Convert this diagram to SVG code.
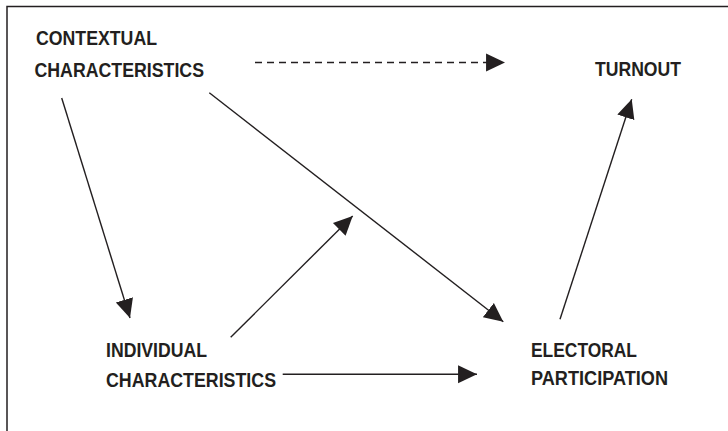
<svg xmlns="http://www.w3.org/2000/svg" width="728" height="431" viewBox="0 0 728 431">
<style>
.lbl{font-family:"Liberation Sans",Arial,sans-serif;font-weight:bold;font-size:21px;fill:#231f20}
.ln{stroke:#231f20;stroke-width:1.4;fill:none;marker-end:url(#ah)}
.dash{stroke-dasharray:7,5}
</style>
<defs>
<marker id="ah" markerUnits="userSpaceOnUse" markerWidth="20" markerHeight="20" viewBox="0 -9 19 18" refX="18" refY="0" orient="auto">
<path d="M0,-8.5 L18,0 L0,8.5 Z" fill="#231f20"/>
</marker>
</defs>
<rect x="7" y="6.5" width="730" height="440" fill="#fff" stroke="#231f20" stroke-width="1.5"/>
<g id="connectors">
<line class="ln dash" x1="255" y1="62.5" x2="505" y2="62.5"/>
<line class="ln" x1="61.7" y1="98" x2="130" y2="318"/>
<line class="ln" x1="209.3" y1="92.7" x2="503.3" y2="321.7"/>
<line class="ln" x1="230.7" y1="337.3" x2="352.7" y2="216"/>
<line class="ln" x1="282.7" y1="374.3" x2="477" y2="374.3"/>
<line class="ln" x1="560" y1="319.3" x2="631.7" y2="99.3"/>
</g>
<g id="contextual">
<text class="lbl" x="36" y="45" textLength="121" lengthAdjust="spacingAndGlyphs">CONTEXTUAL</text>
<text class="lbl" x="34.5" y="77" textLength="169.5" lengthAdjust="spacingAndGlyphs">CHARACTERISTICS</text>
</g>
<g id="turnout">
<text class="lbl" x="595" y="76" textLength="86" lengthAdjust="spacingAndGlyphs">TURNOUT</text>
</g>
<g id="individual">
<text class="lbl" x="106" y="356.7" textLength="101" lengthAdjust="spacingAndGlyphs">INDIVIDUAL</text>
<text class="lbl" x="106" y="387.3" textLength="170" lengthAdjust="spacingAndGlyphs">CHARACTERISTICS</text>
</g>
<g id="electoral">
<text class="lbl" x="531" y="356.7" textLength="106" lengthAdjust="spacingAndGlyphs">ELECTORAL</text>
<text class="lbl" x="531" y="385" textLength="137" lengthAdjust="spacingAndGlyphs">PARTICIPATION</text>
</g>
</svg>
